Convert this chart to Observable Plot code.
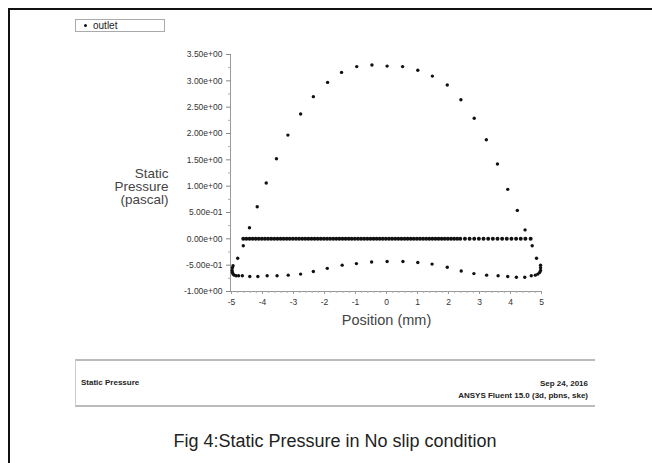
<!DOCTYPE html>
<html>
<head>
<meta charset="utf-8">
<script src="https://cdn.jsdelivr.net/npm/d3@7"></script>
<script src="https://cdn.jsdelivr.net/npm/@observablehq/plot@0.6"></script>
<style>
  html, body { margin: 0; padding: 0; background: #fff; }
  body { width: 652px; height: 463px; overflow: hidden; position: relative; font-family: "Liberation Sans", Arial, sans-serif; }
  #frame { position: absolute; left: 8px; top: 8px; width: 700px; height: 520px; border-left: 2px solid #111; border-top: 2px solid #111; box-sizing: border-box; }
  #chart { position: absolute; left: 0; top: 0; }
  #legend { position: absolute; left: 75px; top: 19px; width: 90px; height: 13px; border: 1px solid #aaa; box-sizing: border-box; font-size: 10px; color: #222; line-height: 11px; }
  #legend .dot { display: inline-block; width: 3px; height: 3px; border-radius: 50%; background: #111; margin: 0 6px 1px 8px; vertical-align: middle; }
  #footer { position: absolute; left: 75px; top: 359px; width: 520px; height: 48px; border-top: 2px solid #bbb; border-bottom: 2px solid #bbb; border-left: 1px solid #ccc; box-sizing: border-box; font-size: 8px; color: #222; }
  #footer .left { position: absolute; left: 5px; top: 17px; font-weight: bold; }
  #footer .right { position: absolute; right: 7px; top: 17px; text-align: right; line-height: 11.5px; font-weight: bold; }
  #caption { position: absolute; left: 0; width: 670px; top: 431px; text-align: center; font-size: 18px; color: #222; }
</style>
</head>
<body>
<div id="frame"></div>
<div id="chart"></div>
<div id="legend"><span class="dot"></span>outlet</div>
<div id="footer">
  <div class="left">Static Pressure</div>
  <div class="right">Sep 24, 2016<br>ANSYS Fluent 15.0 (3d, pbns, ske)</div>
</div>
<div id="caption">Fig 4:Static Pressure in No slip condition</div>
<script>
// ---- data ----
const upperX = [-4.42,-4.17,-3.88,-3.55,-3.18,-2.77,-2.36,-1.90,-1.45,-0.96,-0.47,0.02,0.52,1.01,1.48,1.96,2.40,2.83,3.22,3.58,3.91,4.22,4.47];
const upperY = [0.21,0.61,1.06,1.52,1.97,2.37,2.70,2.97,3.16,3.27,3.30,3.28,3.27,3.20,3.09,2.92,2.64,2.29,1.88,1.42,0.94,0.54,0.17];

const wallX = [-4.62,-4.80,-4.95,4.70,4.84,4.97];
const wallY = [-0.13,-0.37,-0.51,-0.13,-0.37,-0.50];

const lowerX = [-4.97,-4.98,-4.97,-4.95,-4.91,-4.85,-4.77,-4.65,-4.41,-4.15,-3.85,-3.53,-3.17,-2.77,-2.36,-1.91,-1.43,-0.97,-0.48,0.02,0.53,1.01,1.47,1.96,2.41,2.82,3.23,3.60,3.91,4.19,4.46,4.67,4.80,4.88,4.94,4.97,4.97];
const lowerY = [-0.55,-0.60,-0.64,-0.67,-0.69,-0.70,-0.70,-0.70,-0.715,-0.715,-0.70,-0.70,-0.69,-0.67,-0.62,-0.56,-0.50,-0.47,-0.44,-0.43,-0.43,-0.45,-0.48,-0.54,-0.61,-0.66,-0.69,-0.70,-0.715,-0.73,-0.73,-0.70,-0.69,-0.67,-0.64,-0.60,-0.55];

const zeroX = [-4.62,-4.52,-4.42,-4.32,-4.22,-4.12,-4.02,-3.92,-3.82,-3.72,-3.62,-3.52,-3.42,-3.32,-3.22,-3.12,-3.02,-2.92,-2.82,-2.72,-2.62,-2.52,-2.42,-2.32,-2.22,-2.12,-2.02,-1.92,-1.82,-1.72,-1.62,-1.52,-1.42,-1.32,-1.22,-1.12,-1.02,-0.92,-0.82,-0.72,-0.62,-0.52,-0.42,-0.32,-0.22,-0.12,-0.02,0.08,0.18,0.28,0.38,0.48,0.58,0.68,0.78,0.88,0.98,1.08,1.18,1.28,1.38,1.48,1.58,1.68,1.78,1.88,1.98,2.08,2.18,2.28,2.38,2.53,2.68,2.83,2.98,3.13,3.28,3.43,3.58,3.73,3.88,4.03,4.18,4.33,4.48,4.65];
const zeroY = 0;

const yTicks = [-1, -0.5, 0, 0.5, 1, 1.5, 2, 2.5, 3, 3.5];
const yTickLabels = ["-1.00e+00","-5.00e-01","0.00e+00","5.00e-01","1.00e+00","1.50e+00","2.00e+00","2.50e+00","3.00e+00","3.50e+00"];
const yMinor = [-0.75,-0.25,0.25,0.75,1.25,1.75,2.25,2.75,3.25];
const xTicks = [-5,-4,-3,-2,-1,0,1,2,3,4,5];
const xTickLabels = ["-5","-4","-3","-2","-1","0","1","2","3","4","5"];
const xMinor = [-4.8,-4.6,-4.4,-4.2,-3.8,-3.6,-3.4,-3.2,-2.8,-2.6,-2.4,-2.2,-1.8,-1.6,-1.4,-1.2,-0.8,-0.6,-0.4,-0.2,0.2,0.4,0.6,0.8,1.2,1.4,1.6,1.8,2.2,2.4,2.6,2.8,3.2,3.4,3.6,3.8,4.2,4.4,4.6,4.8];

const xLabel = "Position (mm)";
const yLabelLines = ["Static", "Pressure", "(pascal)"];

// ---- table ----
const curvePoints = [
  ...upperX.map((x, i) => ({x, y: upperY[i]})),
  ...wallX.map((x, i) => ({x, y: wallY[i]})),
  ...lowerX.map((x, i) => ({x, y: lowerY[i]}))
];
const zeroPoints = zeroX.map(x => ({x, y: zeroY}));
const yLabelMap = new Map(yTicks.map((d, i) => [d, yTickLabels[i]]));
const xLabelMap = new Map(xTicks.map((d, i) => [d, xTickLabels[i]]));
const yLabelOffsets = [0.5, 13.5, 26.5];

const plot = Plot.plot({
  width: 652,
  height: 340,
  marginLeft: 231,
  marginRight: 111,
  marginTop: 54,
  marginBottom: 49,
  style: {background: "transparent", fontFamily: "'Liberation Sans', Arial, sans-serif", overflow: "visible"},
  x: {domain: [-5, 5]},
  y: {domain: [-1, 3.5]},
  marks: [
    Plot.ruleX([-5], {y1: -1, y2: 3.5, stroke: "#999", strokeWidth: 1, dx: -1}),
    Plot.ruleY([-1], {x1: -5, x2: 5, stroke: "#999", strokeWidth: 1}),
    Plot.axisY(yTicks, {tickFormat: d => yLabelMap.get(d), tickSize: 5, tickPadding: 4, fontSize: 8.5, stroke: "#888", fill: "#333", label: null}),
    Plot.axisY(yMinor, {tickFormat: () => "", tickSize: 3, stroke: "#aaa", label: null}),
    Plot.axisX(xTicks, {tickFormat: d => xLabelMap.get(d), tickSize: 3, tickPadding: 4, fontSize: 8.5, stroke: "#999", fill: "#333", label: null}),
    Plot.axisX(xMinor, {tickFormat: () => "", tickSize: 2, stroke: "#aaa", label: null}),
    Plot.text([xLabel], {frameAnchor: "bottom", dy: 33, fontSize: 14.5, fill: "#444"}),
    ...yLabelLines.map((t, i) => Plot.text([t], {frameAnchor: "left", dx: -63, dy: yLabelOffsets[i], textAnchor: "end", fontSize: 13.5, fill: "#444"})),
    Plot.dot(zeroPoints, {x: "x", y: "y", r: 2, fill: "#111", stroke: null}),
    Plot.dot(curvePoints, {x: "x", y: "y", r: 1.7, fill: "#111", stroke: null})
  ]
});
document.getElementById("chart").appendChild(plot);
</script>
</body>
</html>
